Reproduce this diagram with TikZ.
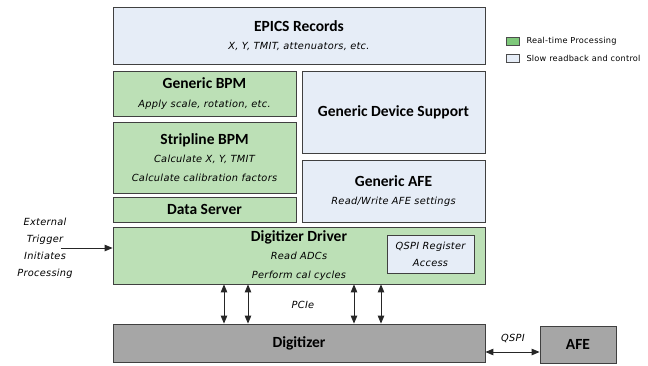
\documentclass[tikz,border=0pt]{standalone}
\usepackage{fontspec}
\setmainfont{Carlito}
\newfontfamily\descfont[LetterSpace=3]{DejaVu Sans}
\usetikzlibrary{arrows,arrows.meta,shadows,positioning}
\definecolor{rtgreen}{RGB}{188,224,182}
\definecolor{rtdark}{RGB}{126,200,122}
\definecolor{slowblue}{RGB}{230,237,247}
\definecolor{hwgrey}{RGB}{166,166,166}
\newcommand{\ttl}[1]{{\fontsize{15.5}{18}\selectfont\bfseries #1}}
\newcommand{\dsc}[1]{{\descfont\itshape #1}}

\begin{document}
\begin{tikzpicture}[x=1pt, y=-1pt,
	box/.style = {draw=black!75, line width=.8pt, align=center, inner sep=0pt,
		font=\fontsize{9.8}{18.5}\selectfont,
		drop shadow={shadow xshift=1.3pt, shadow yshift=-1.3pt, fill=black!55, opacity=.9}},
	rt/.style = {box, fill=rtgreen},
	slow/.style = {box, fill=slowblue},
	hw/.style = {box, fill=hwgrey},
	tip/.tip = {Triangle[length=8pt,width=6.5pt]},
	link/.style = {black!85, line width=.9pt, -tip},
	dlink/.style = {black!85, line width=.9pt, tip-tip},
	lbl/.style = {inner sep=0pt, align=center, font=\descfont\itshape\fontsize{9.8}{17}\selectfont},
	key/.style = {draw=black!70, line width=.6pt, minimum width=13pt, minimum height=8pt, inner sep=0pt},
	keytxt/.style = {inner sep=0pt, anchor=west, font=\descfont\fontsize{8.2}{9}\selectfont}
]
	\useasboundingbox (0,0) rectangle (648,365);
	\node[slow, minimum width=372pt, minimum height=57pt] (epics) at (299,35.5) {\ttl{EPICS Records}\\\dsc{X, Y, TMIT, attenuators, etc.}};
	\node[rt, minimum width=183pt, minimum height=45pt] (gbpm) at (204.5,93.5) {\ttl{Generic BPM}\\\dsc{Apply scale, rotation, etc.}};
	\node[rt, minimum width=183pt, minimum height=71pt] (sbpm) at (204.5,157.5) {\ttl{Stripline BPM}\\\dsc{Calculate X, Y, TMIT}\\\dsc{Calculate calibration factors}};
	\node[rt, minimum width=183pt, minimum height=25pt] (dsrv) at (204.5,209.5) {\ttl{Data Server}};
	\node[slow, minimum width=183pt, minimum height=82pt] (gds) at (393.5,112) {\ttl{Generic Device Support}};
	\node[slow, minimum width=183pt, minimum height=62pt] (gafe) at (393.5,191) {\ttl{Generic AFE}\\\dsc{Read/Write AFE settings}};
	\node[rt, minimum width=372pt, minimum height=57pt] (drv) at (299,255.5) {\ttl{Digitizer Driver}\\\dsc{Read ADCs}\\\dsc{Perform cal cycles}};
	\node[slow, minimum width=87pt, minimum height=38pt, font=\fontsize{9.8}{17}\selectfont] (qspi) at (430.5,254) {\dsc{QSPI Register}\\\dsc{Access}};
	\node[hw, minimum width=372pt, minimum height=38pt] (dig) at (299,343) {\ttl{Digitizer}};
	\node[hw, minimum width=76pt, minimum height=37pt] (afe) at (578,344.5) {\ttl{AFE}};

	\node[lbl] (trig) at (45,248) {External\\Trigger\\Initiates\\Processing};
	\draw[link] ([xshift=-12pt]trig.east) -- (trig.east -| drv.west);

	\draw[dlink] ([xshift=-75pt]drv.south) -- ([xshift=-75pt]dig.north);
	\draw[dlink] ([xshift=-51pt]drv.south) -- ([xshift=-51pt]dig.north);
	\draw[dlink] ([xshift=55pt]drv.south) -- ([xshift=55pt]dig.north);
	\draw[dlink] ([xshift=82pt]drv.south) -- ([xshift=82pt]dig.north);
	\node[lbl] (pcie) at (303,305) {PCIe};

	\draw[dlink] ([yshift=-9pt]dig.east) -- ([yshift=-9pt]dig.east -| afe.west);
	\node[lbl] (qlbl) at (513,338) {QSPI};

	\node[key, fill=rtdark] (krt) at (512.5,41) {};
	\node[key, fill=slowblue] (kslow) at (512.5,58) {};
	\node[keytxt] at ([xshift=7pt]krt.east) {Real-time Processing};
	\node[keytxt] at ([xshift=7pt]kslow.east) {Slow readback and control};
\end{tikzpicture}
\end{document}
